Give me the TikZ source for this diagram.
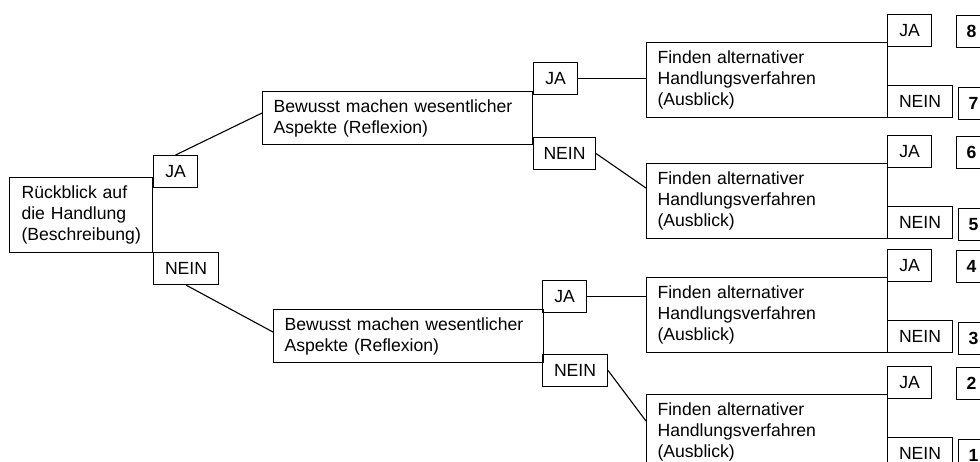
\documentclass[tikz,border=0pt]{standalone}
\usepackage{fontspec}
\setmainfont{Liberation Sans}
\begin{document}
\begin{tikzpicture}[x=1pt,y=-1pt,
  box/.style={draw,line width=1.1pt,anchor=north west,inner ysep=0pt,
    font=\fontsize{17.6}{21}\selectfont},
  txt/.style={box,align=left,inner xsep=11pt},
  root/.style={txt,inner xsep=12pt,text width=119pt,minimum height=75pt},
  refl/.style={txt,text width=248pt,minimum height=53pt},
  aus/.style={txt,text width=219pt,minimum height=75pt},
  ja/.style={box,inner xsep=0pt,minimum width=44pt,minimum height=32pt},
  nein/.style={ja,minimum width=65pt},
  num/.style={box,inner xsep=0pt,minimum width=30pt,minimum height=32pt,
    font=\fontsize{17.6}{21}\selectfont\bfseries},
  con/.style={line width=1.1pt}]
  \useasboundingbox (0,0) rectangle (980,462);
  \node[root] (Rb) at (9,177) {Rückblick auf\\die Handlung\\(Beschreibung)};
  \node[ja]   (J1) at (153,155) {JA};
  \node[nein] (N1) at (153,252) {NEIN};
  \node[refl] (R1) at (262,91) {Bewusst machen wesentlicher\\Aspekte (Reflexion)};
  \node[ja]   (J2) at (533,62) {JA};
  \node[nein,minimum width=62pt] (N2) at (533,137) {NEIN};
  \node[refl] (R2) at (273,309) {Bewusst machen wesentlicher\\Aspekte (Reflexion)};
  \node[ja]   (J3) at (542,280) {JA};
  \node[nein] (N3) at (542,354) {NEIN};
  \foreach \i/\y/\a/\b in {1/42/8/7,2/163/6/5,3/277/4/3,4/394/2/1}{
    \node[aus] (A\i) at (646,\y) {Finden alternativer\\Handlungsverfahren\\(Ausblick)};
    \node[ja]   (AJ\i) at (887,{\y-28}) {JA};
    \node[nein] (AN\i) at (887,{\y+43}) {NEIN};
    \node[num]  (Z\a) at (956,{\y-27}) {\a};
    \node[num]  (Z\b) at (958,{\y+45}) {\b};
  }
  \draw[con] (J1.north) -- ([yshift=5pt]R1.west);
  \draw[con] (N1.south) -- ([yshift=4pt]R2.west);
  \draw[con] (J2.east) -- (J2.east -| A1.west);
  \draw[con] (N2.east) -- ([yshift=13pt]A2.west);
  \draw[con] (J3.east) -- (J3.east -| A3.west);
  \draw[con] (N3.east) -- ([yshift=11pt]A4.west);
\end{tikzpicture}
\end{document}
